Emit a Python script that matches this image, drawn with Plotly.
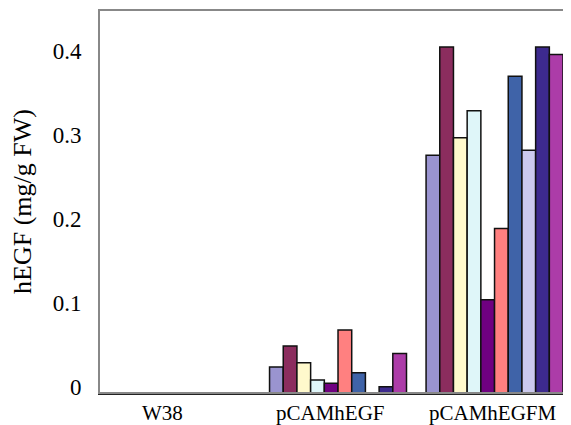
import plotly.graph_objects as go

categories = ["W38", "pCAMhEGF", "pCAMhEGFM"]
series_names = ["Line 1", "Line 2", "Line 3", "Line 4", "Line 5",
                "Line 6", "Line 7", "Line 8", "Line 9", "Line 10"]
# values per line for W38, pCAMhEGF, pCAMhEGFM
values = [
    [0.0, 0.031, 0.283],
    [0.0, 0.056, 0.412],
    [0.0, 0.036, 0.304],
    [0.0, 0.0155, 0.336],
    [0.0, 0.0115, 0.111],
    [0.0, 0.075, 0.196],
    [0.0, 0.024, 0.377],
    [0.0, 0.0, 0.289],
    [0.0, 0.0075, 0.412],
    [0.0, 0.047, 0.403],
]
colors = ["#9a94d0", "#8b2d5e", "#fff9cc", "#dff6f9", "#6f0080",
          "#ff8080", "#3f63a8", "#cccaee", "#3d2a8e", "#ac3ca8"]
y_ticks = [0, 0.1, 0.2, 0.3, 0.4]
y_tick_labels = ["0", "0.1", "0.2", "0.3", "0.4"]
label_shifts = [-19, -8, -2]

serif = "Liberation Serif"

fig = go.Figure()
for name, vals, col in zip(series_names, values, colors):
    fig.add_trace(go.Bar(
        x=categories, y=vals, name=name,
        marker=dict(color=col, line=dict(color="#111111", width=1.5)),
    ))

for cat, sh in zip(categories, label_shifts):
    fig.add_annotation(
        x=cat, y=0, xref="x", yref="y", text=cat, showarrow=False,
        yanchor="top", yshift=-6, xshift=sh,
        font=dict(family=serif, size=21, color="#000000"),
    )

fig.add_shape(type="rect", xref="paper", yref="paper", x0=0, y0=0, x1=1, y1=1,
              line=dict(color="#888888", width=2), layer="above")

fig.update_layout(
    width=563, height=417,
    margin=dict(l=91, r=1, t=2, b=32),
    paper_bgcolor="white", plot_bgcolor="white",
    font=dict(family=serif),
    barmode="group", bargap=0.125, bargroupgap=0,
    showlegend=False,
    xaxis=dict(
        type="category", range=[-0.527, 2.482],
        showticklabels=False, ticks="", showgrid=False, zeroline=False,
        showline=True, linecolor="#222222", linewidth=1.5,
    ),
    yaxis=dict(
        range=[0, 0.456], tickvals=y_ticks, ticktext=y_tick_labels,
        ticks="", showgrid=False, zeroline=False,
        showline=True, linecolor="#222222", linewidth=1,
        tickfont=dict(family=serif, size=23, color="#000000"),
        ticklabelstandoff=12, ticklabelshift=-6,
        title=dict(text="hEGF (mg/g FW)", standoff=13,
                   font=dict(family=serif, size=26, color="#000000")),
    ),
)

fig.write_html("out.html")
